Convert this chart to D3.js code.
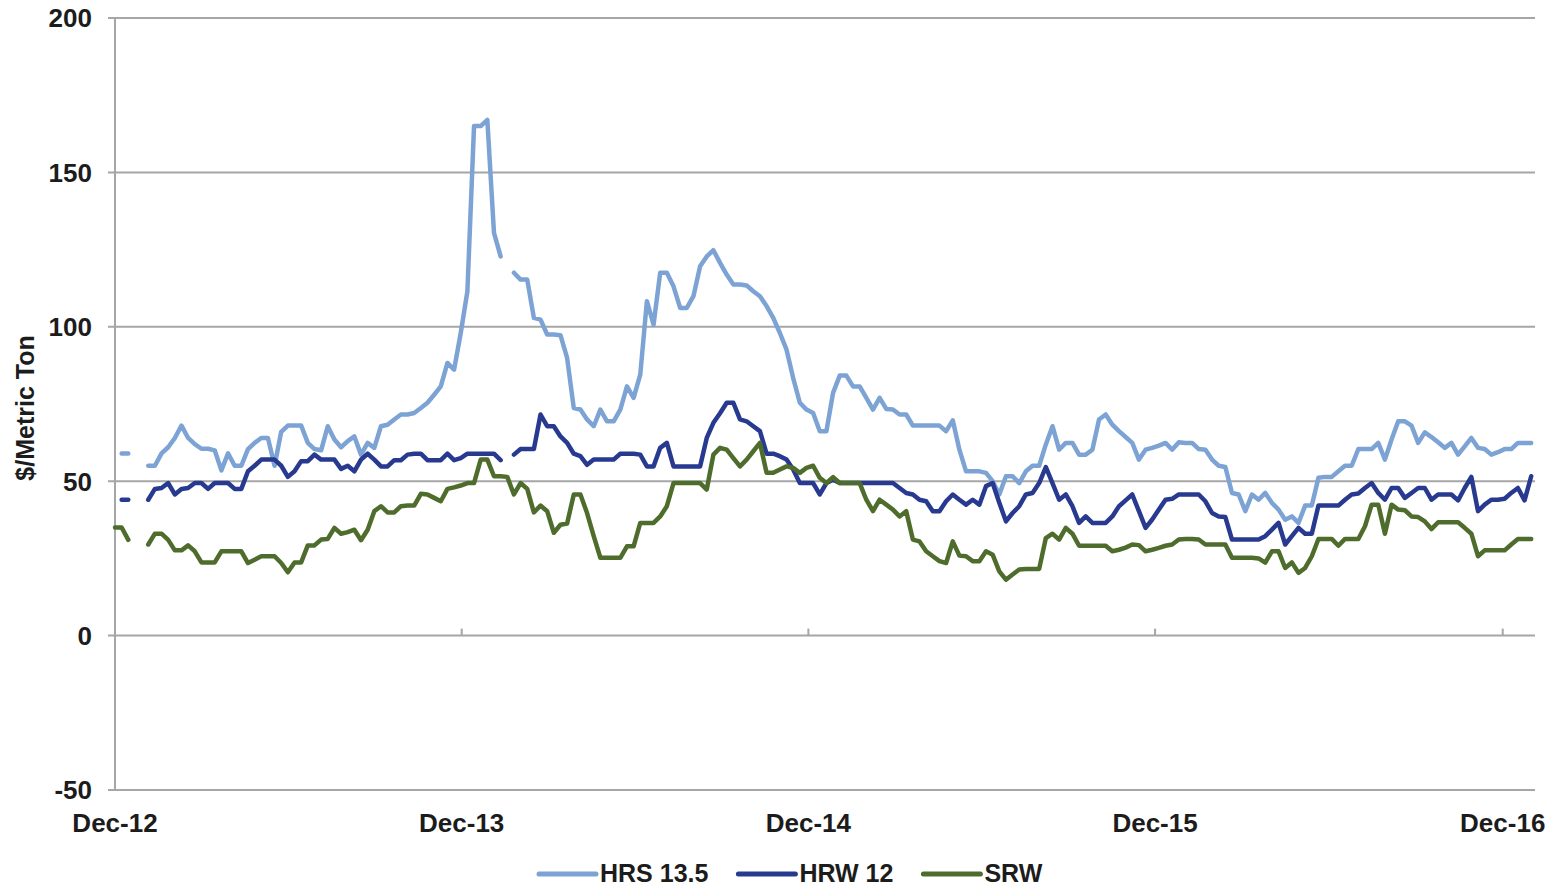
<!DOCTYPE html>
<html>
<head>
<meta charset="utf-8">
<script src="https://cdn.jsdelivr.net/npm/d3@7"></script>
<style>
  body { margin: 0; background: #fff; }
  text { font-family: 'Liberation Sans', Arial, sans-serif; font-weight: bold; fill: #1c1c1c; }
</style>
</head>
<body>
<div id="chart"></div>
<script>
// weekly spreads, $/metric ton, first week = Dec 2012 (null = no quote)
let hrs = [
  null, 59, 59, null, null, 55, 55, 59, 61, 64,
  68, 64, 62, 60.5, 60.5, 60, 53.5, 59, 55, 55,
  60.4, 62.4, 64, 64, 55, 66, 68, 68, 68, 62.4,
  60.4, 60, 67.8, 63.5, 61, 63, 64.5, 58.6, 62.4, 60.8,
  67.8, 68.3, 70, 71.6, 71.6, 72.1, 73.7, 75.4, 78, 80.7,
  88.3, 86.1, 98, 111.5, 165, 165, 167, 130.4, 122.8, null,
  117.5, 115.3, 115.3, 102.9, 102.3, 97.5, 97.5, 97.3, 89.9, 73.7,
  73.2, 70, 67.8, 73.2, 69.4, 69.4, 73.2, 80.7, 77, 84.5,
  108.3, 100.7, 117.5, 117.5, 113.1, 106.1, 106.1, 109.9, 119.6, 122.8,
  124.8, 120.7, 116.9, 113.7, 113.7, 113.4, 111.5, 109.9, 106.7, 102.9,
  98, 92.6, 83.4, 75.4, 73.2, 72.1, 66.2, 66.2, 78.6, 84.2,
  84.2, 80.7, 80.7, 77, 73.2, 77, 73.4, 73.2, 71.6, 71.6,
  68, 68, 68, 68, 68, 66.2, 69.7, 60.2, 53.2, 53.2,
  53.2, 52.7, 50, 45.7, 51.6, 51.6, 49.4, 53.2, 55, 55,
  61.9, 67.8, 60.2, 62.4, 62.4, 58.6, 58.6, 60.2, 70, 71.6,
  68.3, 66.2, 64.3, 62.4, 57, 60.2, 60.8, 61.5, 62.4, 60.2,
  62.6, 62.4, 62.4, 60.4, 60.2, 57, 55, 54.6, 46.2, 45.7,
  40.3, 45.7, 44, 46.2, 43, 40.8, 37.5, 38.6, 36.5, 42.1,
  42.1, 51.1, 51.4, 51.4, 53.2, 55, 55, 60.4, 60.4, 60.4,
  62.4, 57, 63.5, 69.4, 69.4, 68, 62.4, 65.8, 64.3, 62.6,
  60.8, 62.4, 58.6, 61.3, 64, 60.8, 60.4, 58.6, 59.4, 60.4,
  60.4, 62.4, 62.4, 62.4
]

let hrw = [
  null, 44, 44, null, null, 44, 47.5, 47.8, 49.4, 45.7,
  47.5, 47.8, 49.4, 49.4, 47.5, 49.4, 49.4, 49.4, 47.5, 47.5,
  53.2, 55, 57, 57, 57, 55, 51.4, 53.2, 56.5, 56.5,
  58.6, 57, 57, 57, 54, 55, 53.2, 57, 58.9, 57,
  54.8, 54.8, 56.8, 56.8, 58.6, 58.9, 58.9, 56.8, 56.8, 56.8,
  58.9, 56.8, 57.5, 58.9, 58.9, 58.9, 58.9, 58.9, 56.8, null,
  58.6, 60.4, 60.4, 60.4, 71.6, 67.8, 67.8, 64.5, 62.4, 58.9,
  58.1, 55.3, 57, 57, 57, 57, 58.9, 58.9, 58.9, 58.6,
  54.8, 54.8, 60.8, 62.4, 54.8, 54.8, 54.8, 54.8, 54.8, 64,
  68.9, 72, 75.4, 75.4, 70, 69.4, 67.8, 66.2, 58.9, 58.9,
  58.1, 57, 53.8, 49.4, 49.4, 49.4, 45.7, 49.4, 50.5, 49.4,
  49.4, 49.4, 49.4, 49.4, 49.4, 49.4, 49.4, 49.4, 47.8, 46.2,
  45.7, 44, 43.5, 40.3, 40.3, 43.5, 45.7, 44, 42.4, 44,
  42.4, 48.4, 49.4, 43, 37, 39.7, 41.9, 45.7, 46.2, 49.4,
  54.6, 49.4, 44, 45.7, 41.9, 36.5, 38.6, 36.5, 36.5, 36.5,
  38.6, 41.9, 43.8, 45.7, 40.3, 34.9, 37.6, 40.8, 44, 44.3,
  45.7, 45.7, 45.7, 45.7, 43.5, 39.7, 38.6, 38.4, 31.1, 31.1,
  31.1, 31.1, 31.1, 32.2, 34.3, 36.5, 29.5, 32.2, 34.9, 33,
  33, 42.1, 42.1, 42.1, 42.1, 44, 45.7, 46, 47.8, 49.4,
  46.2, 44, 47.8, 47.8, 44.6, 46.2, 47.8, 47.8, 44, 45.7,
  45.7, 45.7, 43.8, 47.8, 51.4, 40.3, 42.4, 44, 44, 44.3,
  46.2, 47.8, 43.8, 51.6
]

let srw = [
  35, 35, 31, null, null, 29.5, 33, 33, 31, 27.6,
  27.6, 29.2, 27.3, 23.7, 23.7, 23.7, 27.3, 27.3, 27.3, 27.3,
  23.5, 24.6, 25.7, 25.7, 25.7, 23.5, 20.5, 23.7, 23.7, 29.2,
  29.2, 31.1, 31.3, 34.9, 33, 33.5, 34.3, 30.9, 34.3, 40.3,
  41.9, 39.9, 39.9, 41.9, 42.1, 42.1, 45.9, 45.7, 44.6, 43.5,
  47.5, 48, 48.6, 49.4, 49.4, 57, 57, 51.6, 51.6, 51.4,
  45.7, 49.4, 47.5, 39.9, 42.1, 40.3, 33.3, 35.9, 36.3, 45.7,
  45.7, 39.7, 32.2, 25.2, 25.2, 25.2, 25.2, 28.9, 28.9, 36.5,
  36.5, 36.5, 38.6, 41.9, 49.4, 49.4, 49.4, 49.4, 49.4, 47.3,
  58.6, 60.8, 60.2, 57.5, 54.8, 57, 59.7, 62.4, 52.7, 52.7,
  53.8, 54.8, 54.3, 52.7, 54.3, 55, 51.1, 49.4, 51.3, 49.4,
  49.4, 49.4, 49.4, 44, 40.3, 44, 42.4, 40.8, 38.6, 40.3,
  31.1, 30.5, 27.3, 25.7, 24.1, 23.5, 30.5, 25.9, 25.7, 24.1,
  24.1, 27.3, 26.2, 20.8, 18.1, 19.8, 21.4, 21.6, 21.6, 21.6,
  31.6, 33, 31.1, 34.9, 33, 29.1, 29.1, 29.1, 29.1, 29.1,
  27.3, 27.8, 28.5, 29.5, 29.3, 27.3, 27.8, 28.4, 29.1, 29.5,
  31.1, 31.3, 31.3, 31.1, 29.5, 29.5, 29.5, 29.5, 25.2, 25.2,
  25.2, 25.2, 25, 23.6, 27.3, 27.3, 21.9, 23.7, 20.3, 21.9,
  25.7, 31.3, 31.3, 31.3, 29.1, 31.3, 31.3, 31.3, 35.4, 42.4,
  42.4, 33, 42.4, 40.8, 40.6, 38.6, 38.4, 37, 34.5, 36.7,
  36.7, 36.7, 36.7, 34.9, 33, 25.7, 27.6, 27.6, 27.6, 27.6,
  29.5, 31.3, 31.3, 31.3
]

let seriesNames = ['HRS 13.5', 'HRW 12', 'SRW']
let seriesColors = ['#7ca3d4', '#283a8f', '#4e6d2c']
let yTicks = [-50, 0, 50, 100, 150, 200]
let tickYears = [2012, 2013, 2014, 2015, 2016]

let margin = { top: 18, left: 115, right: 20, bottom: 99 }
let width = 1555 - margin.left - margin.right
let height = 889 - margin.top - margin.bottom

let svg = d3
  .select('#chart')
  .append('svg')
  .attr('width', width + margin.left + margin.right)
  .attr('height', height + margin.top + margin.bottom)
  .style('display', 'block')
  .style('background', '#fff')
  .append('g')
  .attr('transform', 'translate(' + margin.left + ',' + margin.top + ')')

let start = new Date(2012, 11, 1)
let dates = hrs.map((d, i) => d3.timeDay.offset(start, i * 7))

let xScale = d3
  .scaleTime()
  .domain([start, d3.timeDay.offset(start, 1495)])
  .range([0, width])

let yScale = d3.scaleLinear().domain([-50, 200]).range([height, 0])

let gridColor = '#a6a6a6'

// horizontal gridlines, poking out left of the axis like tick marks
svg
  .selectAll('.grid')
  .data(yTicks)
  .enter()
  .append('line')
  .attr('class', 'grid')
  .attr('x1', -7)
  .attr('x2', width)
  .attr('y1', d => yScale(d))
  .attr('y2', d => yScale(d))
  .attr('stroke', gridColor)
  .attr('stroke-width', 2)

svg
  .append('line')
  .attr('x1', 0)
  .attr('x2', 0)
  .attr('y1', 0)
  .attr('y2', height)
  .attr('stroke', gridColor)
  .attr('stroke-width', 2)

svg
  .selectAll('.y-label')
  .data(yTicks)
  .enter()
  .append('text')
  .attr('class', 'y-label')
  .text(d => d)
  .attr('x', -23)
  .attr('y', d => yScale(d))
  .attr('dy', '0.36em')
  .attr('text-anchor', 'end')
  .attr('font-size', 26)

// year ticks sit on the zero line, labels at the bottom
let tickDates = tickYears.map(y => new Date(y, 11, 1))
let fmt = d3.timeFormat('%b-%y')

svg
  .selectAll('.x-tick')
  .data(tickDates)
  .enter()
  .append('line')
  .attr('class', 'x-tick')
  .attr('x1', d => xScale(d))
  .attr('x2', d => xScale(d))
  .attr('y1', yScale(0) - 7)
  .attr('y2', yScale(0))
  .attr('stroke', gridColor)
  .attr('stroke-width', 2)

svg
  .selectAll('.x-label')
  .data(tickDates)
  .enter()
  .append('text')
  .attr('class', 'x-label')
  .text(d => fmt(d))
  .attr('x', d => xScale(d))
  .attr('y', height + 42)
  .attr('text-anchor', 'middle')
  .attr('font-size', 26)

svg
  .append('text')
  .text('$/Metric Ton')
  .attr('transform', 'translate(-81,' + (yScale(75) + 4) + ') rotate(-90)')
  .attr('text-anchor', 'middle')
  .attr('font-size', 25)

let line = d3
  .line()
  .defined(d => d.value != null)
  .x(d => xScale(d.date))
  .y(d => yScale(d.value))

let series = [hrs, hrw, srw].map((values, k) => ({
  name: seriesNames[k],
  color: seriesColors[k],
  points: values.map((v, i) => ({ date: dates[i], value: v }))
}))

svg
  .selectAll('.series')
  .data(series)
  .enter()
  .append('path')
  .attr('class', 'series')
  .attr('d', d => line(d.points))
  .attr('fill', 'none')
  .attr('stroke', d => d.color)
  .attr('stroke-width', 4.5)
  .attr('stroke-linejoin', 'round')
  .attr('stroke-linecap', 'round')

// legend
let legend = svg.append('g').attr('transform', 'translate(' + (539 - margin.left) + ',' + (874 - margin.top) + ')')

let cursor = 0
series.forEach(s => {
  let g = legend.append('g').attr('transform', 'translate(' + cursor + ',0)')
  g.append('line')
    .attr('x1', 0)
    .attr('x2', 57)
    .attr('stroke', s.color)
    .attr('stroke-width', 5)
    .attr('stroke-linecap', 'round')
  let t = g
    .append('text')
    .text(s.name)
    .attr('x', 61)
    .attr('y', 8)
    .attr('font-size', 25)
  cursor += 61 + t.node().getComputedTextLength() + 30
})
</script>
</body>
</html>
